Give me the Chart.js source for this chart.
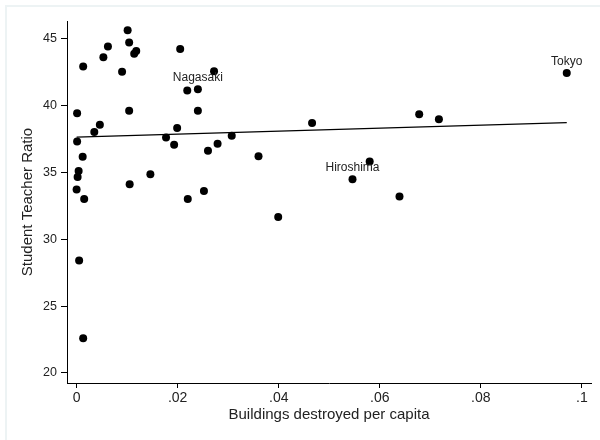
<!DOCTYPE html>
<html>
<head>
<meta charset="utf-8">
<script src="https://cdn.jsdelivr.net/npm/chart.js@4/dist/chart.umd.min.js"></script>
<style>
  html, body { margin: 0; padding: 0; background: #fff; }
  #wrap { width: 600px; height: 440px; position: relative; }
</style>
</head>
<body>
<div id="wrap"><canvas id="c" width="600" height="440"></canvas></div>
<script>
// Buildings destroyed per capita (x)
const destroyed = [0.0101, 0.0013, 0.0053, 0.0062, 0.0104, 0.0114, 0.0118, 0.0090, 0.0205, 0.0001,
                   0.0104, 0.0035, 0.0046, 0.0001, 0.0012, 0.0004, 0.0002, 0.0000, 0.0015, 0.0105,
                   0.0146, 0.0177, 0.0193, 0.0199, 0.0220, 0.0219, 0.0240, 0.0240, 0.0272, 0.0005,
                   0.0013, 0.0466, 0.0307, 0.0279, 0.0260, 0.0360, 0.0580, 0.0546, 0.0252, 0.0399,
                   0.0639, 0.0970, 0.0678, 0.0717];
// Student teacher ratio (y)
const ratio = [45.6, 42.9, 43.6, 44.4, 44.7, 43.85, 44.05, 42.5, 44.2, 39.4,
               39.6, 38.0, 38.55, 37.3, 36.15, 35.1, 34.65, 33.7, 33.0, 34.1,
               34.85, 37.6, 37.05, 38.3, 33.0, 41.1, 41.2, 39.6, 42.55, 28.4,
               22.6, 38.68, 37.73, 37.13, 36.6, 36.19, 35.8, 34.48, 33.6, 31.66,
               33.18, 42.41, 39.33, 38.95];
// City labels (empty = unlabeled)
const cityNames = ["", "", "", "", "", "", "", "", "", "",
                   "", "", "", "", "", "", "", "", "", "",
                   "", "", "", "", "", "", "Nagasaki", "", "", "",
                   "", "", "", "", "", "", "", "Hiroshima", "", "",
                   "", "Tokyo", "", ""];
// Fitted line endpoints
const fitX = [0.0, 0.097];
const fitY = [37.62, 38.70];
// Axis ticks
const xTickVals = [0, 0.02, 0.04, 0.06, 0.08, 0.1];
const xTickLabels = ["0", ".02", ".04", ".06", ".08", ".1"];
const yTickVals = [20, 25, 30, 35, 40, 45];

const FONT = "'Liberation Sans', Arial, Helvetica, sans-serif";

const bgPlugin = {
  id: 'bg',
  beforeDraw(chart) {
    const ctx = chart.ctx;
    ctx.save();
    ctx.fillStyle = '#ffffff';
    ctx.fillRect(0, 0, chart.width, chart.height);
    ctx.fillStyle = '#edf3f4';
    ctx.fillRect(5, 5, chart.width - 5, 2);
    ctx.fillRect(5, 5, 2, chart.height - 5);
    ctx.restore();
  }
};

const labelPlugin = {
  id: 'pointLabels',
  afterDatasetsDraw(chart) {
    const meta = chart.getDatasetMeta(0);
    const ctx = chart.ctx;
    ctx.save();
    ctx.font = "12px " + FONT;
    ctx.fillStyle = '#222';
    ctx.textAlign = 'center';
    ctx.textBaseline = 'alphabetic';
    meta.data.forEach((el, i) => {
      const name = cityNames[i];
      if (name) ctx.fillText(name, el.x, el.y - 8.5);
    });
    ctx.restore();
  }
};

const points = destroyed.map((x, i) => ({ x: x, y: ratio[i] }));
const fitLine = fitX.map((x, i) => ({ x: x, y: fitY[i] }));

new Chart(document.getElementById('c'), {
  type: 'scatter',
  data: {
    datasets: [
      {
        data: points,
        backgroundColor: '#000',
        borderColor: '#000',
        pointRadius: 4,
        pointBorderWidth: 0,
        pointHoverRadius: 4
      },
      {
        data: fitLine,
        showLine: true,
        borderColor: '#000',
        borderWidth: 1.2,
        pointRadius: 0,
        fill: false
      }
    ]
  },
  options: {
    responsive: false,
    animation: false,
    events: [],
    layout: { padding: { top: 21, right: 9, left: 0, bottom: 0 } },
    plugins: { legend: { display: false }, tooltip: { enabled: false } },
    scales: {
      x: {
        type: 'linear',
        min: -0.0019,
        max: 0.1018,
        afterFit(scale) { scale.height = 57; },
        afterBuildTicks(scale) { scale.ticks = xTickVals.map(v => ({ value: v })); },
        grid: { drawOnChartArea: false, drawTicks: true, tickLength: 5, color: '#000' },
        border: { display: true, color: '#000', width: 1 },
        ticks: {
          color: '#222',
          padding: 2,
          maxRotation: 0,
          font: { family: FONT, size: 14 },
          callback(v) {
            const idx = xTickVals.findIndex(t => Math.abs(t - v) < 1e-9);
            return idx >= 0 ? xTickLabels[idx] : '';
          }
        },
        title: {
          display: true,
          text: 'Buildings destroyed per capita',
          color: '#222',
          font: { family: FONT, size: 15 },
          padding: { top: 0, bottom: 16 }
        }
      },
      y: {
        type: 'linear',
        min: 19.25,
        max: 46.3,
        afterFit(scale) { scale.width = 67; },
        afterBuildTicks(scale) { scale.ticks = yTickVals.map(v => ({ value: v })); },
        grid: { drawOnChartArea: false, drawTicks: true, tickLength: 6, color: '#000' },
        border: { display: true, color: '#000', width: 1 },
        ticks: {
          color: '#222',
          padding: 4,
          font: { family: FONT, size: 12.5 },
          callback(v) { return String(v); }
        },
        title: {
          display: true,
          text: 'Student Teacher Ratio',
          color: '#222',
          font: { family: FONT, size: 15 },
          padding: { top: 19, bottom: 0 }
        }
      }
    }
  },
  plugins: [bgPlugin, labelPlugin]
});
</script>
</body>
</html>
